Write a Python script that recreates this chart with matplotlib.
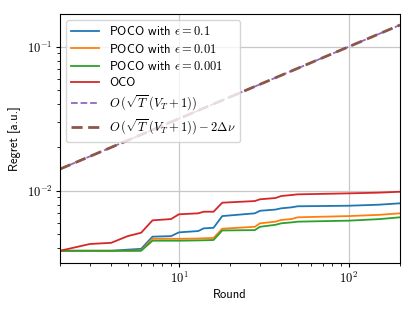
import matplotlib
matplotlib.use("Agg")
import matplotlib.pyplot as plt
from matplotlib.ticker import FuncFormatter, LogLocator
import numpy as np

plt.rcParams['mathtext.fontset'] = 'cm'
plt.rcParams['font.family'] = ['cmss10', 'DejaVu Sans']
plt.rcParams['font.size'] = 9
plt.rcParams['axes.formatter.use_mathtext'] = True

rounds = [2, 3, 4, 5, 6, 7, 9, 10, 13, 14, 16, 18, 28, 30, 37, 40, 46, 50, 100, 150, 200]

poco_01 = [0.00383, 0.00383, 0.00383, 0.00390, 0.00395, 0.00480, 0.00484, 0.00514,
           0.00525, 0.00548, 0.00553, 0.00667, 0.00697, 0.00726, 0.00740, 0.00755,
           0.00767, 0.00780, 0.00787, 0.00800, 0.00818]
poco_001 = [0.00383, 0.00383, 0.00383, 0.00383, 0.00385, 0.00464, 0.00464, 0.00464,
            0.00466, 0.00468, 0.00470, 0.00545, 0.00562, 0.00594, 0.00610, 0.00627,
            0.00636, 0.00654, 0.00667, 0.00680, 0.00697]
poco_0001 = [0.00383, 0.00383, 0.00383, 0.00383, 0.00383, 0.00450, 0.00450, 0.00450,
             0.00452, 0.00453, 0.00455, 0.00530, 0.00533, 0.00562, 0.00580, 0.00594,
             0.00603, 0.00610, 0.00620, 0.00635, 0.00654]
oco = [0.00383, 0.00427, 0.00435, 0.00484, 0.00511, 0.00623, 0.00636, 0.00686,
       0.00697, 0.00715, 0.00715, 0.00826, 0.00848, 0.00872, 0.00890, 0.00919,
       0.00934, 0.00944, 0.00959, 0.00970, 0.00984]

# bound curves (straight line in log-log)
bound_rounds = [2, 5, 10, 20, 50, 100, 200]
bound = [0.01414, 0.02236, 0.03162, 0.04472, 0.07071, 0.1, 0.1414]
bound_shifted = [0.01414, 0.02236, 0.03162, 0.04472, 0.07071, 0.1, 0.1414]

fig = plt.figure(figsize=(4.15, 3.11), dpi=100)
ax = fig.add_axes([0.1446, 0.1543, 0.8193, 0.8007])

ax.plot(rounds, poco_01, color="tab:blue", lw=1.3, label=r"POCO with $\epsilon = 0.1$")
ax.plot(rounds, poco_001, color="tab:orange", lw=1.3, label=r"POCO with $\epsilon = 0.01$")
ax.plot(rounds, poco_0001, color="tab:green", lw=1.3, label=r"POCO with $\epsilon = 0.001$")
ax.plot(rounds, oco, color="tab:red", lw=1.3, label="OCO")
ax.plot(bound_rounds, bound, color="tab:purple", lw=1.3, ls="--",
        label=r"$O\,(\sqrt{T}\,(V_T+1))$")
ax.plot(bound_rounds, bound_shifted, color="tab:brown", lw=2, ls=(0, (4, 2)),
        label=r"$O\,(\sqrt{T}\,(V_T+1)) - 2\Delta\nu$")

ax.set_xscale("log")
ax.set_yscale("log")
ax.set_xlim(2, 200)
ax.set_ylim(0.00315, 0.1686)

fmt = FuncFormatter(lambda v, p: r"$10^{%d}$" % round(np.log10(v)))
ax.xaxis.set_major_formatter(fmt)
ax.yaxis.set_major_formatter(fmt)
ax.xaxis.set_major_locator(LogLocator(base=10))
ax.yaxis.set_major_locator(LogLocator(base=10))
ax.tick_params(which="major", labelsize=9, length=3, pad=2.5)
ax.tick_params(which="minor", length=2)

ax.grid(True, which="major", color="#c8c8c8", lw=0.9)
ax.set_xlabel("Round", labelpad=2)
ax.set_ylabel("Regret [a.u.]", labelpad=4)
ax.legend(loc="upper left", fontsize=9, labelspacing=0.35, handlelength=2.2)

fig.savefig("out.png", dpi=100)
